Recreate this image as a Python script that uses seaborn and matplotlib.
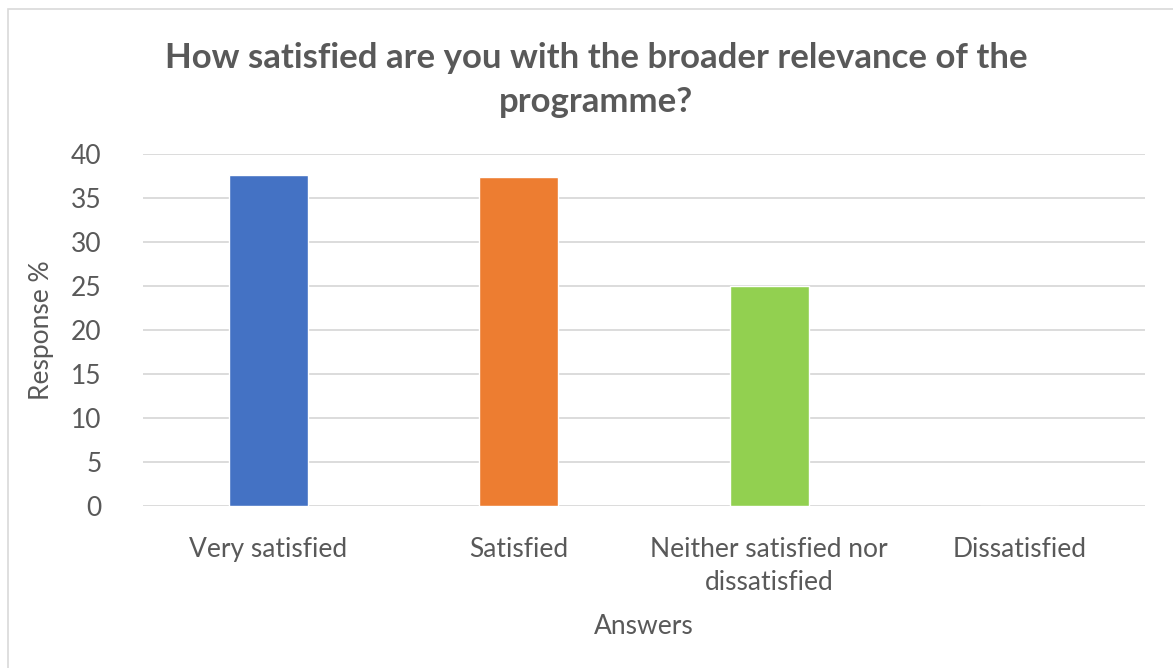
import matplotlib
matplotlib.use('Agg')
import matplotlib.pyplot as plt
import seaborn as sns
import pandas as pd
from matplotlib.patches import Rectangle

# chart data
answers = ['Very satisfied', 'Satisfied', 'Neither satisfied nor\ndissatisfied', 'Dissatisfied']
response_pct = [37.6, 37.4, 25.0, 0.0]
bar_colors = ['#4472c4', '#ed7d31', '#92d050', '#a5a5a5']
y_ticks = [0, 5, 10, 15, 20, 25, 30, 35, 40]

title = 'How satisfied are you with the broader relevance of the\nprogramme?'
text_color = '#595959'

sns.set_theme(style='white')
plt.rcParams['font.family'] = ['Lato', 'DejaVu Sans']

df = pd.DataFrame({'Answer': answers, 'Response': response_pct})

fig = plt.figure(figsize=(11.73, 6.68), dpi=100)
ax = fig.add_axes([0.122, 0.2425, 0.854, 0.527])

sns.barplot(data=df, x='Answer', y='Response', hue='Answer', palette=bar_colors,
            width=0.316, legend=False, ax=ax, saturation=1)

ax.set_ylim(0, 40)
ax.set_xlim(-0.5, 3.5)
ax.set_yticks(y_ticks)
ax.yaxis.grid(True, color='#d9d9d9', linewidth=1.3)
ax.set_axisbelow(True)
for s in ax.spines.values():
    s.set_visible(False)
ax.tick_params(axis='both', length=0, labelsize=19, colors=text_color)
ax.tick_params(axis='x', pad=22)
ax.tick_params(axis='y', pad=30)
for lbl in ax.get_xticklabels():
    lbl.set_linespacing(1.4)

ax.set_xlabel('Answers', fontsize=19, color=text_color, labelpad=14)
ax.set_ylabel('Response %', fontsize=19, color=text_color, labelpad=12)

fig.text(0.508, 0.937, title, ha='center', va='top', fontsize=25, fontweight='bold',
         color=text_color, linespacing=1.45)

# chart frame
fig.patches.append(Rectangle((8 / 1173, -0.1), 1.2, 1 - 9 / 668 + 0.1, transform=fig.transFigure,
                             fill=False, edgecolor='#d9d9d9', linewidth=1.2))

fig.savefig('out.png', dpi=100)
